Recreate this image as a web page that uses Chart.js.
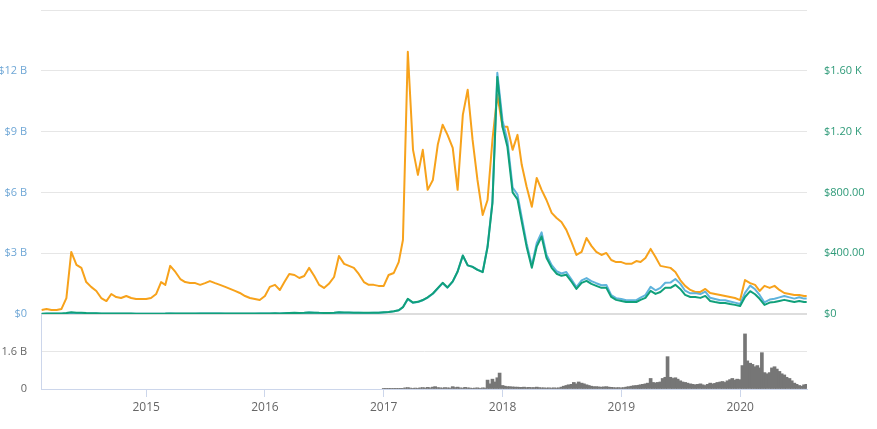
<!DOCTYPE html>
<html lang="en">
<head>
    <meta charset="UTF-8">
    <title>Dash price chart</title>
    <script src="https://cdn.jsdelivr.net/npm/chart.js"></script>
    <style>
        body { margin: 0; background: #fff; }
        #wrap { position: relative; width: 877px; height: 429px; }
        canvas { position: absolute; left: 0; }
        #mainChart { top: 0; }
        #volChart { top: 306px; }
    </style>
</head>
<body>
<div id="wrap">
    <canvas id="mainChart" width="877" height="322"></canvas>
    <canvas id="volChart" width="877" height="123"></canvas>
</div>
<script>
    // semi-monthly samples
    const lineDates = [
        '2014-02-14','2014-03-01','2014-03-16','2014-04-01','2014-04-16','2014-05-01','2014-05-16','2014-06-01','2014-06-16','2014-07-01','2014-07-16','2014-08-01','2014-08-16','2014-09-01','2014-09-16','2014-10-01','2014-10-16','2014-11-01','2014-11-16','2014-12-01','2014-12-16',
        '2015-01-01','2015-01-16','2015-02-01','2015-02-16','2015-03-01','2015-03-16','2015-04-01','2015-04-16','2015-05-01','2015-05-16','2015-06-01','2015-06-16','2015-07-01','2015-07-16','2015-08-01','2015-08-16','2015-09-01','2015-09-16','2015-10-01','2015-10-16','2015-11-01','2015-11-16','2015-12-01','2015-12-16',
        '2016-01-01','2016-01-16','2016-02-01','2016-02-16','2016-03-01','2016-03-16','2016-04-01','2016-04-16','2016-05-01','2016-05-16','2016-06-01','2016-06-16','2016-07-01','2016-07-16','2016-08-01','2016-08-16','2016-09-01','2016-09-16','2016-10-01','2016-10-16','2016-11-01','2016-11-16','2016-12-01','2016-12-16',
        '2017-01-01','2017-01-16','2017-02-01','2017-02-16','2017-03-01','2017-03-16','2017-04-01','2017-04-16','2017-05-01','2017-05-16','2017-06-01','2017-06-16','2017-07-01','2017-07-16','2017-08-01','2017-08-16','2017-09-01','2017-09-16','2017-10-01','2017-10-16','2017-11-01','2017-11-16','2017-12-01','2017-12-16',
        '2018-01-01','2018-01-16','2018-02-01','2018-02-16','2018-03-01','2018-03-16','2018-04-01','2018-04-16','2018-05-01','2018-05-16','2018-06-01','2018-06-16','2018-07-01','2018-07-16','2018-08-01','2018-08-16','2018-09-01','2018-09-16','2018-10-01','2018-10-16','2018-11-01','2018-11-16','2018-12-01','2018-12-16',
        '2019-01-01','2019-01-16','2019-02-01','2019-02-16','2019-03-01','2019-03-16','2019-04-01','2019-04-16','2019-05-01','2019-05-16','2019-06-01','2019-06-16','2019-07-01','2019-07-16','2019-08-01','2019-08-16','2019-09-01','2019-09-16','2019-10-01','2019-10-16','2019-11-01','2019-11-16','2019-12-01','2019-12-16',
        '2020-01-01','2020-01-16','2020-02-01','2020-02-16','2020-03-01','2020-03-16','2020-04-01','2020-04-16','2020-05-01','2020-05-16','2020-06-01','2020-06-16','2020-07-01','2020-07-16','2020-07-24'
    ];

    // market cap, billions USD (left axis)
    const marketCapB = [
        0.006,0.013,0.015,0.013,0.015,0.026,0.053,0.04,0.036,0.027,0.023,0.021,0.016,0.014,0.016,0.015,0.014,0.014,0.013,0.012,0.012,
        0.011,0.0096,0.0097,0.012,0.014,0.021,0.018,0.017,0.017,0.017,0.018,0.019,0.022,0.023,0.02,0.019,0.017,0.018,0.016,0.018,0.017,0.016,0.018,0.02,
        0.021,0.025,0.026,0.024,0.035,0.044,0.048,0.045,0.052,0.068,0.059,0.049,0.046,0.048,0.053,0.077,0.067,0.064,0.061,0.058,0.055,0.055,0.058,0.057,
        0.079,0.094,0.13,0.18,0.33,0.73,0.55,0.59,0.68,0.81,1.0,1.26,1.52,1.3,1.6,2.09,2.88,2.4,2.33,2.19,2.08,3.34,5.55,11.9,
        9.55,8.55,6.24,5.89,4.76,3.48,2.39,3.49,4.03,2.93,2.41,2.11,2.0,2.07,1.7,1.33,1.66,1.77,1.62,1.52,1.42,1.43,0.93,0.78,
        0.74,0.68,0.68,0.69,0.81,0.93,1.34,1.17,1.29,1.54,1.55,1.73,1.5,1.15,1.02,1.03,0.98,1.1,0.8,0.74,0.68,0.68,0.62,0.56,
        0.49,1.04,1.4,1.22,0.94,0.57,0.71,0.75,0.82,0.89,0.82,0.76,0.83,0.76,0.76
    ];

    // price in USD (right axis)
    const priceUsd = [
        1.5,3,3.5,3,3.5,6,12,9,8,6,5,4.5,3.5,3,3.5,3,2.8,2.7,2.5,2.4,2.3,
        2.0,1.8,1.8,2.3,2.5,3.8,3.2,3.1,3.0,3.1,3.2,3.3,3.8,4.0,3.5,3.2,3.0,3.0,2.8,3.0,2.8,2.6,3.0,3.3,
        3.5,4.0,4.2,3.8,5.5,7.0,7.5,7.0,8.0,10.5,9.0,7.5,7.0,7.3,8.0,11.5,10.0,9.5,9.0,8.5,8.0,8.0,8.5,8.2,
        11,13,18,25,45,100,75,80,92,110,135,170,205,175,215,280,385,320,310,290,275,440,730,1560,
        1230,1100,800,754,608,443,304,443,510,370,304,265,251,258,212,165,205,218,198,185,172,172,112,93,
        86,79,79,79,93,106,152,132,145,172,172,192,165,126,112,112,106,119,86,79,73,73,66,60,
        53,112,150,130,100,60,75,79,86,93,86,79,86,79,79
    ];

    // price in BTC (hidden axis)
    const priceBtc = [
        0.0016,0.0020,0.0016,0.0016,0.0020,0.0063,0.0245,0.0194,0.0182,0.0126,0.0107,0.0091,0.0063,0.0051,0.0079,0.0067,0.0063,0.0071,0.0063,0.0059,0.0059,
        0.0059,0.0063,0.0079,0.0126,0.0115,0.0190,0.0166,0.0138,0.0126,0.0122,0.0122,0.0115,0.0122,0.0130,0.0122,0.0115,0.0107,0.0099,0.0091,0.0083,0.0071,0.0063,0.0059,0.0055,
        0.0071,0.0107,0.0115,0.0095,0.0126,0.0158,0.0154,0.0142,0.0150,0.0182,0.0150,0.0115,0.0103,0.0119,0.0146,0.0229,0.0198,0.0190,0.0182,0.0158,0.0126,0.0115,0.0115,0.0111,
        0.0111,0.0154,0.0162,0.0205,0.0292,0.1035,0.0648,0.0549,0.0648,0.0490,0.0529,0.0668,0.0747,0.0707,0.0656,0.0490,0.0786,0.0885,0.0687,0.0529,0.0391,0.0450,0.0687,0.0865,
        0.0739,0.0739,0.0648,0.0707,0.0589,0.0502,0.0423,0.0537,0.0490,0.0450,0.0399,0.0379,0.0363,0.0332,0.0284,0.0233,0.0245,0.0300,0.0269,0.0245,0.0233,0.0241,0.0213,0.0205,
        0.0205,0.0198,0.0198,0.0209,0.0205,0.0221,0.0257,0.0225,0.0190,0.0186,0.0182,0.0166,0.0134,0.0111,0.0095,0.0087,0.0087,0.0099,0.0083,0.0079,0.0075,0.0071,0.0067,0.0063,
        0.0055,0.0134,0.0122,0.0115,0.0091,0.0111,0.0103,0.0111,0.0095,0.0083,0.0079,0.0075,0.0075,0.0071,0.0071
    ];

    // weekly volume, billions USD, 4 values per month
    const volumeMonths = [
        '2017-01','2017-02','2017-03','2017-04','2017-05','2017-06','2017-07','2017-08','2017-09','2017-10','2017-11','2017-12',
        '2018-01','2018-02','2018-03','2018-04','2018-05','2018-06','2018-07','2018-08','2018-09','2018-10','2018-11','2018-12',
        '2019-01','2019-02','2019-03','2019-04','2019-05','2019-06','2019-07','2019-08','2019-09','2019-10','2019-11','2019-12',
        '2020-01','2020-02','2020-03','2020-04','2020-05','2020-06','2020-07'
    ];
    const weekDays = [1, 8, 16, 23];
    const volumeB = [
        .004,.005,.004,.006, .005,.006,.008,.010, .020,.050,.060,.040, .030,.040,.030,.050, .060,.040,.070,.050, .080,.100,.060,.050,
        .040,.060,.050,.040, .100,.060,.080,.050, .040,.070,.050,.040, .030,.040,.050,.030, .050,.040,.380,.220, .420,.300,.480,.680,
        .15,.12,.10,.10, .09,.08,.08,.07, .07,.08,.06,.07, .06,.06,.08,.06, .05,.05,.04,.05, .04,.05,.04,.05,
        .08,.12,.15,.18, .20,.28,.22,.30, .25,.22,.18,.15, .12,.10,.10,.09, .08,.09,.10,.08, .07,.06,.05,.06,
        .05,.06,.08,.10, .12,.14,.15,.16, .18,.20,.22,.25, .45,.28,.26,.28, .30,.45,.50,1.38, .50,.45,.48,.42,
        .35,.30,.28,.25, .22,.20,.18,.20, .22,.18,.15,.20, .25,.22,.24,.28, .30,.32,.28,.35, .40,.45,.38,.42,
        .40,1.0,2.35,1.2, 1.1,1.05,.95,1.0, .9,1.55,.7,.65, .7,.9,.95,.85, .75,.65,.6,.5, .45,.35,.25,.2, .15,.12,.18,.2
    ];

    const capTicks = [0, 3, 6, 9, 12, 15];
    const capLabels = ['$0', '$3 B', '$6 B', '$9 B', '$12 B', ''];
    const priceTicks = [0, 400, 800, 1200, 1600, 2000];
    const priceLabels = ['$0', '$400.00', '$800.00', '$1.20 K', '$1.60 K', ''];
    const volTicks = [0, 1.6, 3.2];
    const volLabels = ['0', '1.6 B', ''];
    const yearTicks = [2015, 2016, 2017, 2018, 2019, 2020];

    function toYear(s) {
        const [y, m, d] = s.split('-').map(Number);
        const a = Date.UTC(y, 0, 1);
        return y + (Date.UTC(y, m - 1, d || 1) - a) / (Date.UTC(y + 1, 0, 1) - a);
    }

    const xMin = toYear('2014-02-12');
    const xMax = toYear('2020-07-25');
    const xs = lineDates.map(toYear);
    const points = vals => vals.map((v, i) => ({ x: xs[i], y: v }));

    const volPoints = [];
    volumeMonths.forEach((m, mi) => {
        weekDays.forEach((d, wi) => {
            volPoints.push({ x: toYear(m + '-' + d), y: volumeB[mi * 4 + wi] });
        });
    });

    Chart.defaults.font.family = "'Open Sans', sans-serif";
    Chart.defaults.font.size = 11;

    const setTicks = list => axis => { axis.ticks = list.map(v => ({ value: v })); };
    const clear = 'rgba(0,0,0,0)';

    new Chart(document.getElementById('mainChart'), {
        type: 'line',
        data: {
            datasets: [{
                label: 'Price (USD)',
                data: points(priceUsd),
                yAxisID: 'yPrice',
                borderColor: '#10a07a',
                borderWidth: 2
            }, {
                label: 'Market Cap',
                data: points(marketCapB),
                yAxisID: 'yCap',
                borderColor: '#5fb3dc',
                borderWidth: 2
            }, {
                label: 'Price (BTC)',
                data: points(priceBtc),
                yAxisID: 'yBtc',
                borderColor: '#f7a21b',
                borderWidth: 2
            }]
        },
        options: {
            responsive: false,
            animation: false,
            devicePixelRatio: 1,
            layout: { padding: { top: 10, bottom: 8 } },
            elements: {
                point: { radius: 0 },
                line: { tension: 0, borderJoinStyle: 'round' }
            },
            plugins: { legend: { display: false }, tooltip: { enabled: false } },
            scales: {
                x: { type: 'linear', min: xMin, max: xMax, display: false },
                yCap: {
                    position: 'left',
                    min: 0,
                    max: 15,
                    afterBuildTicks: setTicks(capTicks),
                    afterFit: axis => { axis.width = 41; },
                    ticks: { callback: (v, i) => capLabels[i], color: '#6fa7d6', padding: 0 },
                    grid: {
                        tickLength: 14,
                        tickColor: clear,
                        color: c => (c.tick && c.tick.value === 0) ? '#dddddd' : '#e6e6e6',
                        lineWidth: c => (c.tick && c.tick.value === 0) ? 2 : 1
                    },
                    border: { display: false }
                },
                yPrice: {
                    position: 'right',
                    min: 0,
                    max: 2000,
                    afterBuildTicks: setTicks(priceTicks),
                    afterFit: axis => { axis.width = 70; },
                    ticks: { callback: (v, i) => priceLabels[i], color: '#2e9a78', padding: 0 },
                    grid: { drawOnChartArea: false, tickLength: 17, tickColor: clear },
                    border: { display: false }
                },
                yBtc: { display: false, min: 0, max: 0.12 }
            }
        }
    });

    new Chart(document.getElementById('volChart'), {
        type: 'bar',
        data: {
            datasets: [{
                label: 'Volume',
                data: volPoints,
                yAxisID: 'yVol',
                backgroundColor: '#767676',
                barThickness: 3
            }]
        },
        options: {
            responsive: false,
            animation: false,
            devicePixelRatio: 1,
            layout: { padding: { top: 8, right: 70 } },
            plugins: { legend: { display: false }, tooltip: { enabled: false } },
            scales: {
                x: {
                    type: 'linear',
                    min: xMin,
                    max: xMax,
                    offset: false,
                    afterBuildTicks: setTicks(yearTicks),
                    afterFit: axis => { axis.height = 40; },
                    ticks: { callback: v => String(v), color: '#666', font: { size: 12 }, padding: 3, maxRotation: 0, autoSkip: false },
                    grid: { drawOnChartArea: false, offset: false, tickLength: 8, color: '#ccd6eb' },
                    border: { color: '#ccd6eb' }
                },
                yVol: {
                    position: 'left',
                    min: 0,
                    max: 3.2,
                    afterBuildTicks: setTicks(volTicks),
                    afterFit: axis => { axis.width = 41; },
                    ticks: { callback: (v, i) => volLabels[i], color: '#666', padding: 0 },
                    grid: {
                        tickLength: 14,
                        tickColor: clear,
                        color: c => (c.tick && c.tick.value === 3.2) ? clear : '#e6e6e6'
                    },
                    border: { display: true, color: '#ccd6eb' }
                }
            }
        }
    });
</script>
</body>
</html>
